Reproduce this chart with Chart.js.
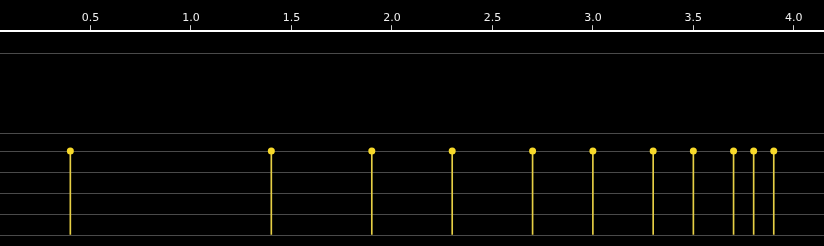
<!DOCTYPE html>
<html>
<head>
<meta charset="utf-8">
<script src="https://cdn.jsdelivr.net/npm/chart.js@4"></script>
<style>
  html, body { margin: 0; padding: 0; background: #000; }
  #wrap { width: 824px; height: 246px; }
</style>
</head>
<body>
<div id="wrap"><canvas id="chart"></canvas></div>
<script>
// stem positions along the x axis
var xValues = [0.4, 1.4, 1.9, 2.3, 2.7, 3.0, 3.3, 3.5, 3.7, 3.8, 3.9];
// every stem has the same height
var stemHeights = [84, 84, 84, 84, 84, 84, 84, 84, 84, 84, 84];
// x tick labels
var xTicks = [0.5, 1.0, 1.5, 2.0, 2.5, 3.0, 3.5, 4.0];
// horizontal guide lines (y values)
var gridValues = [0, 21, 42, 63, 84, 102, 182];

var points = xValues.map(function(x, i) {
  return { x: x, y: stemHeights[i] };
});

new Chart(document.getElementById('chart'), {
  data: {
    datasets: [
      {
        type: 'bar',
        data: points,
        backgroundColor: '#e6cf45',
        barThickness: 1,
        order: 2
      },
      {
        type: 'scatter',
        data: points,
        backgroundColor: '#f7d92a',
        borderWidth: 0,
        pointRadius: 3.5,
        order: 1
      }
    ]
  },
  options: {
    responsive: true,
    maintainAspectRatio: false,
    animation: false,
    layout: { autoPadding: false, padding: { top: 12, bottom: 11, left: 0, right: 0 } },
    plugins: { legend: { display: false }, tooltip: { enabled: false } },
    scales: {
      x: {
        type: 'linear',
        position: 'top',
        offset: false,
        min: 0.05,
        max: 4.15,
        afterBuildTicks: function(scale) {
          scale.ticks = xTicks.map(function(v) { return { value: v }; });
        },
        afterFit: function(scale) {
          scale.paddingLeft = 0;
          scale.paddingRight = 0;
        },
        ticks: {
          color: '#f0f0f0',
          font: { family: 'DejaVu Sans', size: 11 },
          padding: 0,
          maxRotation: 0,
          callback: function(v) { return v.toFixed(1); }
        },
        grid: {
          offset: false,
          drawOnChartArea: false,
          drawTicks: true,
          tickLength: 6,
          tickColor: '#cfcfcf'
        },
        border: { color: '#ffffff', width: 2 }
      },
      y: {
        type: 'linear',
        min: 0,
        max: 204,
        afterBuildTicks: function(scale) {
          scale.ticks = gridValues.map(function(v) { return { value: v }; });
        },
        afterFit: function(scale) { scale.width = 0; },
        ticks: { display: false },
        grid: { color: '#4a4a4a', lineWidth: 1, drawTicks: false },
        border: { display: false }
      }
    }
  }
});
</script>
</body>
</html>
